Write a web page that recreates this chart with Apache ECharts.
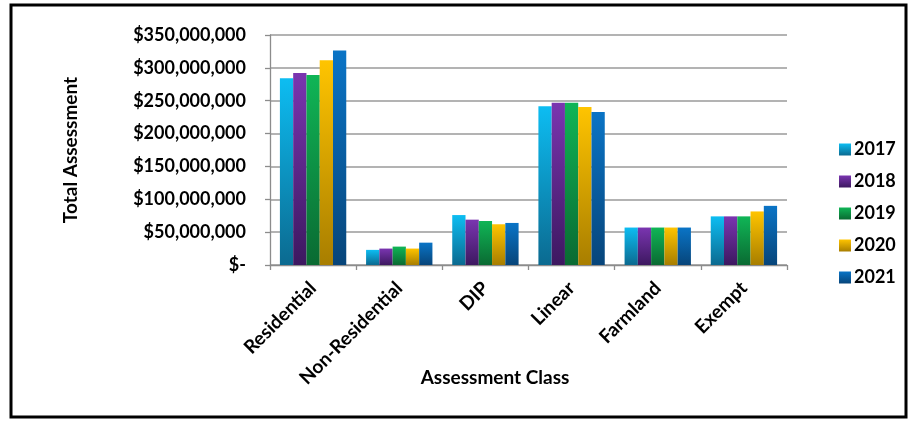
<!DOCTYPE html>
<html>
<head>
<meta charset="utf-8">
<script src="https://cdn.jsdelivr.net/npm/echarts@6/dist/echarts.min.js"></script>
<style>
html,body{margin:0;padding:0;background:#fff;}
#c{width:909px;height:423px;}
</style>
</head>
<body>
<div id="c"></div>
<script>
const categories = ['Residential', 'Non-Residential', 'DIP', 'Linear', 'Farmland', 'Exempt'];
const years = ['2017', '2018', '2019', '2020', '2021'];
const values2017 = [284000000, 23000000, 76000000, 241500000, 57000000, 74000000];
const values2018 = [292000000, 25000000, 69000000, 247000000, 57000000, 74000000];
const values2019 = [289000000, 28000000, 67000000, 247000000, 57000000, 74000000];
const values2020 = [311500000, 25000000, 62000000, 240500000, 57000000, 81500000];
const values2021 = [326500000, 34000000, 64000000, 233000000, 57000000, 90000000];
const seriesValues = [values2017, values2018, values2019, values2020, values2021];
const yTicks = [0, 50000000, 100000000, 150000000, 200000000, 250000000, 300000000, 350000000];

const topColors = ['#0DBDF2', '#7A35B0', '#10B556', '#FFC400', '#0A74C6'];
const bottomColors = ['#0B6A90', '#3D1860', '#0A6A32', '#A87E00', '#07457A'];

const FONT = 'Lato';

function fmtMoney(v) {
  if (v === 0) return '$-';
  return '$' + v.toLocaleString('en-US');
}

const chart = echarts.init(document.getElementById('c'), null, {renderer: 'canvas'});

const series = years.map((y, i) => ({
  name: y,
  type: 'bar',
  data: seriesValues[i],
  barGap: '0%',
  barCategoryGap: '23%',
  itemStyle: {
    color: new echarts.graphic.LinearGradient(0, 0, 0, 1, [
      {offset: 0, color: topColors[i]},
      {offset: 1, color: bottomColors[i]}
    ])
  }
}));

chart.setOption({
  animation: false,
  backgroundColor: '#ffffff',
  textStyle: {fontFamily: FONT},
  grid: {left: 270, right: 122, top: 35, bottom: 158, containLabel: false},
  legend: {
    orient: 'vertical',
    left: 834,
    top: 134,
    itemWidth: 12,
    itemHeight: 12,
    itemGap: 11,
    icon: 'rect',
    data: years,
    textStyle: {fontFamily: FONT, fontWeight: 'bold', fontSize: 18, color: '#000', lineHeight: 21, padding: [0, 0, 0, -2]}
  },
  xAxis: {
    type: 'category',
    data: categories,
    axisLine: {show: true, lineStyle: {color: '#8c8c8c', width: 1.3}},
    axisTick: {show: true, length: 5, lineStyle: {color: '#8c8c8c', width: 1.3}},
    axisLabel: {
      rotate: 45,
      margin: 20,
      interval: 0,
      fontFamily: FONT,
      fontWeight: 'bold',
      fontSize: 19,
      color: '#000'
    }
  },
  yAxis: {
    type: 'value',
    min: 0,
    max: 350000000,
    interval: 50000000,
    name: 'Total Assessment',
    nameLocation: 'middle',
    nameGap: 190,
    nameRotate: 90,
    nameTextStyle: {fontFamily: FONT, fontWeight: 'bold', fontSize: 19, color: '#000'},
    axisLine: {show: true, lineStyle: {color: '#8c8c8c', width: 1.3}},
    axisTick: {show: true, length: 5, lineStyle: {color: '#8c8c8c', width: 1.3}},
    splitLine: {show: true, lineStyle: {color: '#9a9a9a', width: 1.5}},
    axisLabel: {
      margin: 24,
      fontFamily: FONT,
      fontWeight: 'bold',
      fontSize: 18,
      color: '#000',
      customValues: yTicks,
      formatter: fmtMoney
    }
  },
  graphic: [
    {
      type: 'rect',
      shape: {x: 11, y: 5, width: 895, height: 412},
      style: {fill: 'none', stroke: '#000', lineWidth: 3},
      silent: true
    },
    {
      type: 'text',
      x: 495,
      y: 378,
      style: {
        text: 'Assessment Class',
        fontFamily: FONT,
        fontWeight: 'bold',
        fontSize: 19,
        fill: '#000',
        align: 'center',
        verticalAlign: 'middle'
      },
      silent: true
    }
  ],
  series: series
});
</script>
</body>
</html>
